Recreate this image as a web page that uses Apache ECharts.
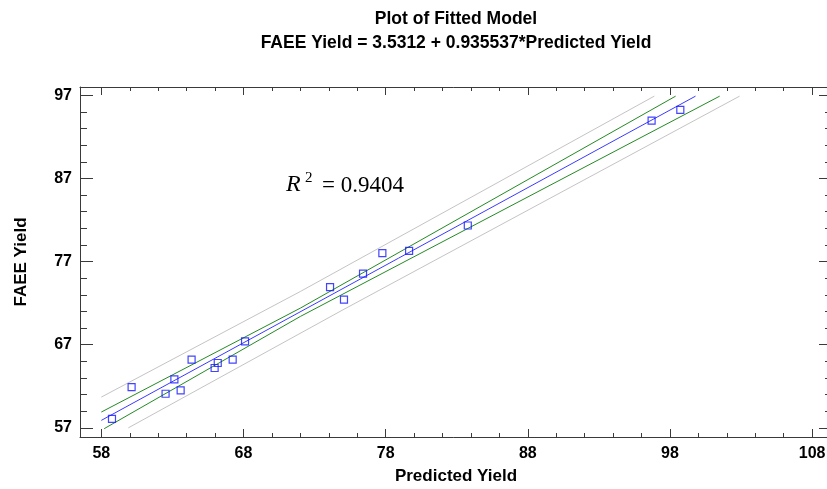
<!DOCTYPE html>
<html>
<head>
<meta charset="utf-8">
<style>
  html, body { margin: 0; padding: 0; background: #fff; }
  #chart { width: 827px; height: 489px; }
</style>
<script src="https://cdn.jsdelivr.net/npm/echarts@6/dist/echarts.min.js"></script>
</head>
<body>
<div id="chart"></div>
<script>
const predictedYield = [58.75, 60.13, 62.52, 63.14, 63.58, 64.35, 65.97, 66.19, 67.24, 68.11,
  74.09, 75.07, 76.41, 77.77, 79.65, 83.78, 96.71, 98.73];
const faeeYield = [58.08, 61.9, 61.1, 62.83, 61.5, 65.2, 64.2, 64.8, 65.2, 67.4,
  73.92, 72.42, 75.55, 78.01, 78.3, 81.34, 93.95, 95.24];

// fitted line and interval limits, read as end / middle points
const fitLine = [[58, 57.9], [99.8, 96.9]];
const confUpper = [[58, 58.9], [72, 71.4], [98.4, 96.9]];
const confLower = [[58.2, 56.9], [72, 70.4], [101.5, 96.9]];
const predUpper = [[58, 60.7], [72, 73.4], [96.9, 96.9]];
const predLower = [[59.9, 57.0], [75, 71.2], [102.9, 96.9]];

// axis ticks
const xMajorTicks = [58, 68, 78, 88, 98, 108];
const xMinorTicks = [58, 60, 62, 64, 66, 68, 70, 72, 74, 76, 78, 80, 82, 84, 86, 88,
  90, 92, 94, 96, 98, 100, 102, 104, 106, 108];
const yMajorTicks = [57, 67, 77, 87, 97];
const yMinorTicks = [57, 59, 61, 63, 65, 67, 69, 71, 73, 75, 77, 79, 81, 83, 85, 87,
  89, 91, 93, 95, 97];

const title1 = 'Plot of Fitted Model';
const title2 = 'FAEE Yield = 3.5312 + 0.935537*Predicted Yield';
const rSquared = '0.9404';

const chart = echarts.init(document.getElementById('chart'));

const axisColor = '#3a3a3a';
const labelFont = {
  fontFamily: 'Liberation Sans',
  fontWeight: 'bold',
  fontSize: 16,
  color: '#000'
};
const nameFont = {
  fontFamily: 'Liberation Sans',
  fontWeight: 'bold',
  fontSize: 17,
  color: '#000'
};

// build one axis (major or minor ticks, on one side)
const makeAxis = (position, ticks, len, opts) => Object.assign({
  type: 'value',
  position: position,
  gridIndex: 0,
  axisLine: { show: false, lineStyle: { color: axisColor, width: 1 } },
  axisTick: {
    show: true,
    inside: true,
    length: len,
    customValues: ticks,
    lineStyle: { color: axisColor, width: 1 }
  },
  axisLabel: { show: false },
  splitLine: { show: false }
}, opts);

const xRange = { min: 56.5, max: 109.4 };
const yRange = { min: 55.9, max: 98.0 };

const lineSeries = (data, color) => ({
  type: 'line',
  data: data,
  showSymbol: false,
  symbol: 'none',
  silent: true,
  lineStyle: { color: color, width: 1 },
  z: 2
});

const option = {
  animation: false,
  backgroundColor: '#fff',
  grid: {
    left: 80,
    top: 87,
    width: 752,
    height: 350,
    containLabel: false,
    outerBoundsMode: 'none'
  },
  xAxis: [
    makeAxis('bottom', xMajorTicks, 8, Object.assign({}, xRange, {
      axisLine: { show: true, onZero: false, lineStyle: { color: axisColor, width: 1 } },
      axisLabel: Object.assign({ show: true, customValues: xMajorTicks, margin: 9 }, labelFont),
      name: 'Predicted Yield',
      nameLocation: 'middle',
      nameGap: 31,
      nameTextStyle: nameFont
    })),
    makeAxis('bottom', xMinorTicks, 4, Object.assign({}, xRange)),
    makeAxis('top', xMajorTicks, 8, Object.assign({}, xRange, {
      axisLine: { show: true, onZero: false, lineStyle: { color: axisColor, width: 1 } }
    })),
    makeAxis('top', xMinorTicks, 4, Object.assign({}, xRange))
  ],
  yAxis: [
    makeAxis('left', yMajorTicks, 13, Object.assign({}, yRange, {
      axisLine: { show: true, onZero: false, lineStyle: { color: axisColor, width: 1 } },
      axisLabel: Object.assign({ show: true, customValues: yMajorTicks, margin: 8 }, labelFont),
      name: 'FAEE Yield',
      nameLocation: 'middle',
      nameGap: 50,
      nameTextStyle: nameFont
    })),
    makeAxis('left', yMinorTicks, 7, Object.assign({}, yRange)),
    // right frame edge lies past the window, only its ticks show
    makeAxis('right', yMajorTicks, 13, Object.assign({}, yRange)),
    makeAxis('right', yMinorTicks, 7, Object.assign({}, yRange))
  ],
  graphic: [
    {
      type: 'text', x: 456, y: 19,
      style: {
        text: title1, textAlign: 'center', textVerticalAlign: 'middle',
        font: 'bold 17.5px "Liberation Sans"', fill: '#000'
      }
    },
    {
      type: 'text', x: 456, y: 43,
      style: {
        text: title2, textAlign: 'center', textVerticalAlign: 'middle',
        font: 'bold 17.5px "Liberation Sans"', fill: '#000'
      }
    },
    {
      type: 'text', x: 286, y: 185,
      style: {
        text: 'R', textAlign: 'left', textVerticalAlign: 'middle',
        font: 'italic 24px "Liberation Serif"', fill: '#000'
      }
    },
    {
      type: 'text', x: 305, y: 178,
      style: {
        text: '2', textAlign: 'left', textVerticalAlign: 'middle',
        font: '15px "Liberation Serif"', fill: '#000'
      }
    },
    {
      type: 'text', x: 322, y: 186,
      style: {
        text: '= ' + rSquared, textAlign: 'left', textVerticalAlign: 'middle',
        font: '23px "Liberation Serif"', fill: '#000'
      }
    }
  ],
  series: [
    lineSeries(predUpper, '#c4c4c4'),
    lineSeries(predLower, '#c4c4c4'),
    lineSeries(confUpper, '#248a24'),
    lineSeries(confLower, '#248a24'),
    lineSeries(fitLine, '#3a3aff'),
    {
      type: 'scatter',
      data: predictedYield.map((x, i) => [x, faeeYield[i]]),
      symbol: 'rect',
      symbolSize: 7,
      itemStyle: {
        color: 'rgba(255,255,255,0)',
        borderColor: '#1515ff',
        borderWidth: 1.2
      },
      z: 3
    }
  ]
};

chart.setOption(option);
</script>
</body>
</html>
